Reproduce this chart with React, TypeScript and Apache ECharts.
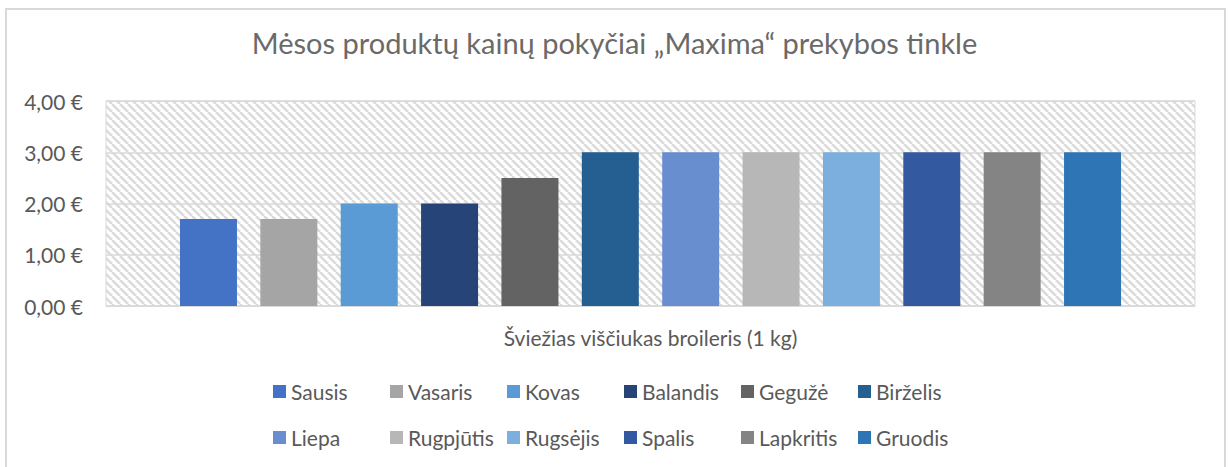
import React, { useEffect, useRef } from "react";
import * as echarts from "echarts";

const title = "Mėsos produktų kainų pokyčiai „Maxima“ prekybos tinkle";
const category = ["Šviežias viščiukas broileris (1 kg)"];
const months = ["Sausis", "Vasaris", "Kovas", "Balandis", "Gegužė", "Birželis", "Liepa", "Rugpjūtis", "Rugsėjis", "Spalis", "Lapkritis", "Gruodis"];
const prices = [1.7, 1.7, 2.0, 2.0, 2.5, 3.0, 3.0, 3.0, 3.0, 3.0, 3.0, 3.0];
const colors = ["#4472C4", "#A5A5A5", "#5B9BD5", "#264478", "#636363", "#255E91", "#698ED0", "#B7B7B7", "#7CAFDD", "#335AA1", "#848484", "#2E75B6"];
const yTicks = [0, 1, 2, 3, 4];

const FONT = "Lato, 'Noto Sans', sans-serif";
const TXT = "#595959";

function makeHatch() {
  const s = 8;
  const c = document.createElement("canvas");
  c.width = s;
  c.height = s;
  const ctx = c.getContext("2d")!;
  ctx.fillStyle = "#ffffff";
  ctx.fillRect(0, 0, s, s);
  ctx.strokeStyle = "#dadada";
  ctx.lineWidth = 2.5;
  for (const x0 of [-s, 0, s]) {
    ctx.beginPath();
    ctx.moveTo(x0, 0);
    ctx.lineTo(x0 + s, s);
    ctx.stroke();
  }
  return c;
}

export default function App() {
  const ref = useRef<HTMLDivElement>(null);
  useEffect(() => {
    const chart = echarts.init(ref.current!, null, { renderer: "svg" });
    const hatch = makeHatch();
    const legends = months.map((m, i) => ({
      data: [m],
      left: 273 + (i % 6) * 117,
      top: i < 6 ? 381 : 427,
      padding: 0,
      itemWidth: 13,
      itemHeight: 13,
      icon: "rect",
      textStyle: { color: TXT, fontSize: 21, fontFamily: FONT },
    }));
    chart.setOption({
      animation: false,
      title: {
        text: title,
        left: "center",
        top: 28,
        padding: 0,
        textStyle: { color: "#6a6a6a", fontSize: 29, fontWeight: "normal", fontFamily: FONT },
      },
      graphic: [
        {
          type: "rect",
          shape: { x: 6, y: 9, width: 1219, height: 520 },
          style: { fill: "none", stroke: "#d9d9d9", lineWidth: 2 },
          silent: true,
        },
      ],
      grid: {
        left: 106,
        right: 34,
        top: 101,
        bottom: 161,
        show: true,
        backgroundColor: { image: hatch, repeat: "repeat" } as any,
        borderColor: "#d9d9d9",
        borderWidth: 1,
      },
      legend: legends,
      xAxis: {
        type: "category",
        data: category,
        axisLine: { show: true, lineStyle: { color: "#d9d9d9" } },
        axisTick: { show: false },
        axisLabel: { color: TXT, fontSize: 21, fontFamily: FONT, margin: 21 },
      },
      yAxis: {
        type: "value",
        min: 0,
        max: 4,
        interval: 1,
        axisLine: { show: false },
        axisTick: { show: false },
        splitLine: { lineStyle: { color: "#d9d9d9", width: 1.5 } },
        axisLabel: {
          color: TXT,
          fontSize: 21,
          fontFamily: FONT,
          margin: 23,
          formatter: (v: number) => (yTicks.includes(v) ? v.toFixed(2).replace(".", ",") + " €" : ""),
        },
      },
      series: months.map((m, i) => ({
        name: m,
        type: "bar",
        data: [prices[i]],
        barWidth: 57,
        barGap: "41%",
        itemStyle: { color: colors[i] },
      })),
    });
    return () => chart.dispose();
  }, []);
  return (
    <div
      ref={ref}
      style={{ position: "absolute", left: 0, top: 0, width: 1229, height: 467, background: "#fff" }}
    />
  );
}
